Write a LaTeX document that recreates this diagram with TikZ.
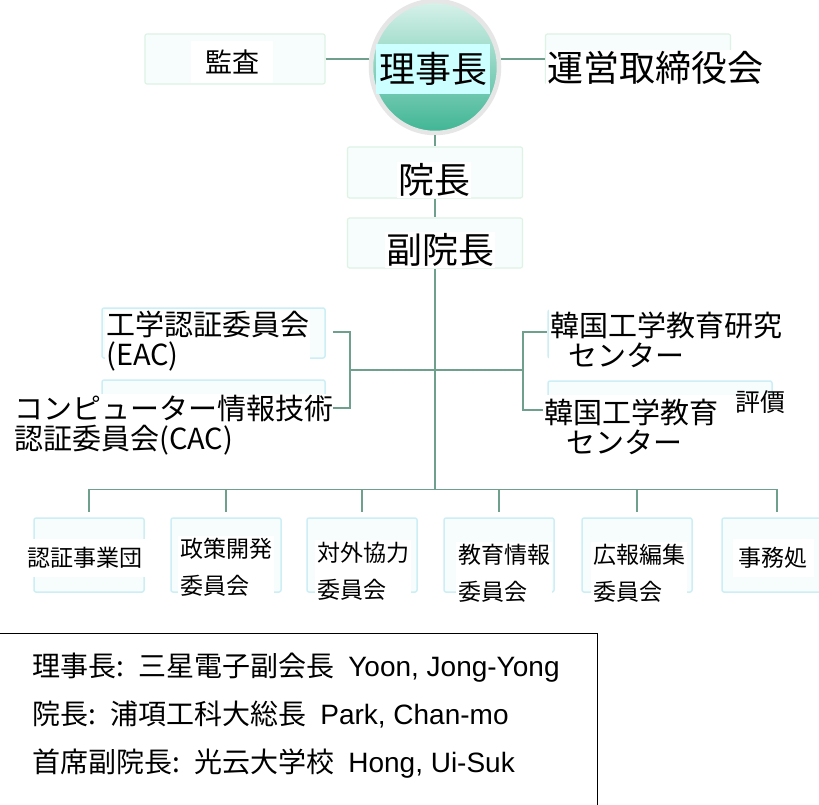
\documentclass[tikz,border=0pt]{standalone}
\usepackage{fontspec}
\setmainfont{Noto Sans CJK JP}
\newfontfamily\lat{Liberation Sans}
\usetikzlibrary{shapes.geometric}
\definecolor{connC}{HTML}{6FA08E}
\definecolor{topLine}{HTML}{DDF3E4}
\definecolor{botLine}{HTML}{CDEEF5}
\definecolor{boxFill}{HTML}{F7FDFD}
\definecolor{ellTop}{HTML}{D8F2EA}
\definecolor{ellMid}{HTML}{5CC7A9}
\definecolor{ellBot}{HTML}{3FB594}
\definecolor{ringC}{HTML}{E6E6E6}
\definecolor{labBg}{HTML}{CCFFFF}
\begin{document}
\begin{tikzpicture}[x=1pt,y=-1pt,
  conn/.style={draw=connC, line width=1.5pt},
  tbox/.style={draw=topLine, fill=boxFill, line width=1.2pt, rounded corners=2pt, inner sep=0},
  bbox/.style={draw=botLine, fill=boxFill, line width=1.5pt, rounded corners=2pt, inner sep=0},
  big/.style={font=\fontsize{36}{40}\selectfont, inner sep=1pt},
  midtxt/.style={font=\fontsize{29}{30}\selectfont, align=left, fill=white, inner sep=1pt, anchor=west},
  smalltxt/.style={font=\fontsize{23}{37}\selectfont, align=left, fill=white, inner sep=2pt},
  legfont/.style={font=\fontsize{28}{48}\selectfont},
]
\useasboundingbox (0,0) rectangle (819,805);
\clip (0,0) rectangle (819,805);
\fill[white] (0,0) rectangle (819,805);

% top row
\node[tbox, minimum width=180pt, minimum height=50pt] (kansaBox) at (235,59) {};
\node[font=\fontsize{27}{30}\selectfont, fill=white, inner xsep=14pt, inner ysep=9pt] (kansa) at (232,62) {監査};
\node[tbox, minimum width=185pt, minimum height=50pt] (uneiBox) at (638,59) {};
\node[big, fill=white] (unei) at (655,68) {運営取締役会};
\node[ellipse, minimum width=128pt, minimum height=132pt, draw=ringC, line width=4.5pt,
      top color=ellTop, middle color=ellMid, bottom color=ellBot] (riji) at (435,67) {};
\node[big, fill=labBg, inner xsep=3pt, inner ysep=8pt] (rijiL) at (433,69) {理事長};
\draw[conn] (kansaBox.east) -- (kansaBox.east -| riji.west);
\draw[conn] (uneiBox.west -| riji.east) -- (uneiBox.west);

% chain
\node[tbox, minimum width=175pt, minimum height=51pt] (inchoBox) at (435,172.5) {};
\node[big, fill=white] (incho) at (434,180) {院長};
\node[tbox, minimum width=175pt, minimum height=50pt] (fukuBox) at (435,243) {};
\node[big, fill=white] (fuku) at (440,250) {副院長};
\draw[conn] (riji.south) -- (inchoBox.north);
\draw[conn] (inchoBox.south) -- (fukuBox.north);

% middle boxes
\node[bbox, minimum width=223pt, minimum height=50pt] (eacBox) at (213.5,333) {};
\node[bbox, minimum width=223pt, minimum height=75pt] (cacBox) at (213.5,417.5) {};
\node[bbox, minimum width=224pt, minimum height=48pt] (kreBox) at (660,334) {};
\node[bbox, minimum width=224pt, minimum height=74pt] (kaeBox) at (660,418) {};
\node[midtxt] (eac) at (105,341) {工学認証委員会\\(EAC)};
\node[midtxt] (cac) at (13,425) {コンピューター情報技術\\認証委員会(CAC)};
\node[midtxt, text width=236pt, inner ysep=3pt] (kre) at (549,340) {韓国工学教育研究\\\hspace*{18pt}センター};
\node[midtxt, text width=250pt, inner ysep=4pt] (kae) at (543,427) {韓国工学教育\\\hspace*{22pt}センター};
\node[font=\fontsize{25}{28}\selectfont, inner sep=1pt] (hyoka) at (760,402) {評價};

\coordinate (mid) at (435,370);
\coordinate (hub) at (435,490);
\coordinate (lb) at (350,370);
\coordinate (eacT) at (333,332);
\coordinate (cacT) at (333,408);
\coordinate (rb) at (523,370);
\coordinate (kreT) at (547,332);
\coordinate (kaeT) at (543,410);
\draw[conn] (fukuBox.south) -- (hub);
\draw[conn] (lb) -- (rb);
\draw[conn] (eacT) -| (lb) |- (cacT);
\draw[conn] (kreT) -| (rb) |- (kaeT);

% bottom boxes
\node[bbox, minimum width=110pt, minimum height=74pt] (b1) at (89,555) {};
\node[bbox, minimum width=110pt, minimum height=74pt] (b2) at (226,555) {};
\node[bbox, minimum width=110pt, minimum height=74pt] (b3) at (362,555) {};
\node[bbox, minimum width=110pt, minimum height=74pt] (b4) at (499,555) {};
\node[bbox, minimum width=110pt, minimum height=74pt] (b5) at (637,555) {};
\node[bbox, minimum width=110pt, minimum height=74pt] (b6) at (777,555) {};
\draw[conn] ([yshift=28pt]b1.north) -- ([yshift=28pt]b6.north);
\foreach \b in {b1,b2,b3,b4,b5,b6}
  \draw[conn] ([yshift=28pt]\b.north) -- ([yshift=5pt]\b.north);

\node[smalltxt, inner xsep=4pt, inner ysep=8pt] (t1) at (85,558) {認証事業団};
\node[smalltxt, anchor=west] (t2) at (178,567) {政策開発\\委員会};
\node[smalltxt, anchor=west] (t3) at (315,571) {対外協力\\委員会};
\node[smalltxt, anchor=west] (t4) at (456,573) {教育情報\\委員会};
\node[smalltxt, anchor=west] (t5) at (591,573) {広報編集\\委員会};
\node[smalltxt, inner xsep=6pt, inner ysep=8pt] (t6) at (773,558) {事務処};

% legend
\node[draw=black, line width=1.3pt, minimum width=620pt, minimum height=190pt,
      anchor=north east, inner sep=0] (legend) at (598,633) {};
\node[legfont, anchor=west, align=left, inner sep=0] (legtext) at (32,716)
 {理事長:\hspace{6pt} 三星電子副会長\hspace{14pt}{\lat\fontsize{28}{48}\selectfont Yoon, Jong-Yong}\\
  院長:\hspace{6pt} 浦項工科大総長\hspace{14pt}{\lat\fontsize{28}{48}\selectfont Park, Chan-mo}\\
  首席副院長:\hspace{6pt} 光云大学校\hspace{14pt}{\lat\fontsize{28}{48}\selectfont Hong, Ui-Suk}};
\end{tikzpicture}
\end{document}
